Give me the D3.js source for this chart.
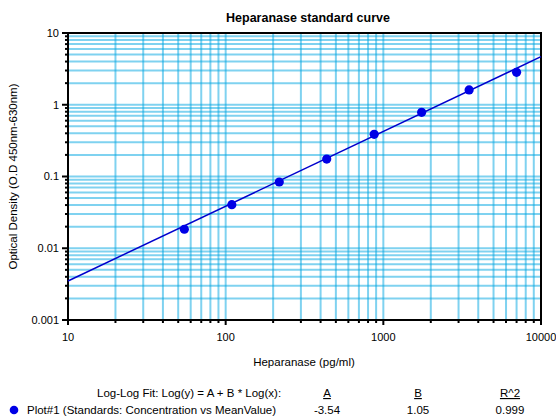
<!DOCTYPE html>
<html>
<head>
<meta charset="utf-8">
<script src="https://cdn.jsdelivr.net/npm/d3@7"></script>
<style>
  body { margin: 0; background: #fff; }
  text { font-family: "Liberation Sans", Arial, sans-serif; }
</style>
</head>
<body>
<div id="chart"></div>
<script>
// standards (pg/ml) and the mean optical density
var concentrations = [54.69, 109.4, 218.75, 437.5, 875, 1750, 3500, 7000];
var meanOD = [0.0184, 0.0405, 0.0838, 0.175, 0.387, 0.785, 1.61, 2.83];

// log-log fit line (drawn) and the coefficients shown in the table
var fitA = -3.498, fitB = 1.042;
var fitLabels = ["A", "B", "R^2"];
var fitValues = ["-3.54", "1.05", "0.999"];

var xTicks = [10, 100, 1000, 10000];
var yTicks = [0.001, 0.01, 0.1, 1, 10];

var width = 556, height = 417;
var margin = {top: 33, right: 15, bottom: 97, left: 68};
var w = width - margin.left - margin.right;
var h = height - margin.top - margin.bottom;

var svg = d3.select("#chart").append("svg")
    .attr("width", width).attr("height", height);
var g = svg.append("g").attr("transform", "translate(" + margin.left + "," + margin.top + ")");

var x = d3.scaleLog().domain([10, 10000]).range([0, w]);
var y = d3.scaleLog().domain([0.001, 10]).range([h, 0]);

// every 1..9 step in each decade gets a grid line
function decadeSteps(lo, hi) {
    var out = [];
    for (var p = lo; p < hi; p *= 10) {
        for (var k = 1; k < 10; k++) out.push(p * k);
    }
    out.push(hi);
    return out;
}
var xGrid = decadeSteps(10, 10000);
var yGrid = decadeSteps(0.001, 10);

var grid = g.append("g").attr("stroke", "rgb(0,165,225)")
    .attr("stroke-opacity", 0.5).attr("stroke-width", 2);
grid.selectAll(".gx").data(xGrid).enter().append("line")
    .attr("x1", function(d) { return x(d); }).attr("x2", function(d) { return x(d); })
    .attr("y1", 0).attr("y2", h);
grid.selectAll(".gy").data(yGrid).enter().append("line")
    .attr("y1", function(d) { return y(d); }).attr("y2", function(d) { return y(d); })
    .attr("x1", 0).attr("x2", w);

// frame
g.append("rect").attr("width", w).attr("height", h)
    .attr("fill", "none").attr("stroke", "#000").attr("stroke-width", 2);

// x axis: long ticks at decades, short ticks between
var xAxis = g.append("g").attr("transform", "translate(0," + h + ")");
xAxis.selectAll(".minor").data(xGrid).enter().append("line")
    .attr("x1", function(d) { return x(d); }).attr("x2", function(d) { return x(d); })
    .attr("y1", 0).attr("y2", function(d) { return xTicks.indexOf(d) > -1 ? 5 : 3; })
    .attr("stroke", "#000").attr("stroke-width", 2);
xAxis.selectAll("text").data(xTicks).enter().append("text")
    .attr("x", function(d) { return x(d); }).attr("y", 21)
    .attr("text-anchor", "middle").attr("font-size", 11)
    .text(function(d) { return d; });

// y axis
var yAxis = g.append("g");
yAxis.selectAll(".minor").data(yGrid).enter().append("line")
    .attr("y1", function(d) { return y(d); }).attr("y2", function(d) { return y(d); })
    .attr("x1", 0).attr("x2", function(d) { return yTicks.indexOf(d) > -1 ? -6 : -3; })
    .attr("stroke", "#000").attr("stroke-width", 2);
yAxis.selectAll("text").data(yTicks).enter().append("text")
    .attr("x", -9).attr("y", function(d) { return y(d); }).attr("dy", "0.35em")
    .attr("text-anchor", "end").attr("font-size", 11)
    .text(function(d) { return d; });

// fit line
var fitLine = d3.line()
    .x(function(d) { return x(d); })
    .y(function(d) { return y(Math.pow(10, fitA + fitB * Math.log10(d))); });
g.append("path").datum([10, 10000])
    .attr("d", fitLine).attr("fill", "none")
    .attr("stroke", "#0000cc").attr("stroke-width", 1.5);

// data points
g.selectAll(".pt").data(concentrations).enter().append("circle")
    .attr("cx", function(d) { return x(d); })
    .attr("cy", function(d, i) { return y(meanOD[i]); })
    .attr("r", 4.6).attr("fill", "#0000e6");

// titles
svg.append("text").attr("x", 308).attr("y", 22)
    .attr("text-anchor", "middle").attr("font-size", 12.5).attr("font-weight", "bold")
    .text("Heparanase standard curve");
svg.append("text").attr("x", 304).attr("y", 366)
    .attr("text-anchor", "middle").attr("font-size", 11.5)
    .text("Heparanase (pg/ml)");
svg.append("text")
    .attr("transform", "translate(17," + (margin.top + h / 2) + ") rotate(-90)")
    .attr("text-anchor", "middle").attr("font-size", 11.5)
    .text("Optical Density (O.D 450nm-630nm)");

// fit table under the chart
var colX = [327, 418, 510];
svg.append("text").attr("x", 97).attr("y", 397).attr("font-size", 11.5)
    .text("Log-Log Fit: Log(y) = A + B * Log(x):");
svg.selectAll(".hdr").data(fitLabels).enter().append("text")
    .attr("x", function(d, i) { return colX[i]; }).attr("y", 397)
    .attr("text-anchor", "middle").attr("font-size", 11.5)
    .attr("text-decoration", "underline")
    .text(function(d) { return d; });
svg.selectAll(".val").data(fitValues).enter().append("text")
    .attr("x", function(d, i) { return colX[i]; }).attr("y", 414)
    .attr("text-anchor", "middle").attr("font-size", 11.5)
    .text(function(d) { return d; });
svg.append("circle").attr("cx", 14).attr("cy", 410).attr("r", 4.3).attr("fill", "#0000e6");
svg.append("text").attr("x", 27).attr("y", 414).attr("font-size", 11.5)
    .text("Plot#1 (Standards: Concentration vs MeanValue)");
</script>
</body>
</html>
